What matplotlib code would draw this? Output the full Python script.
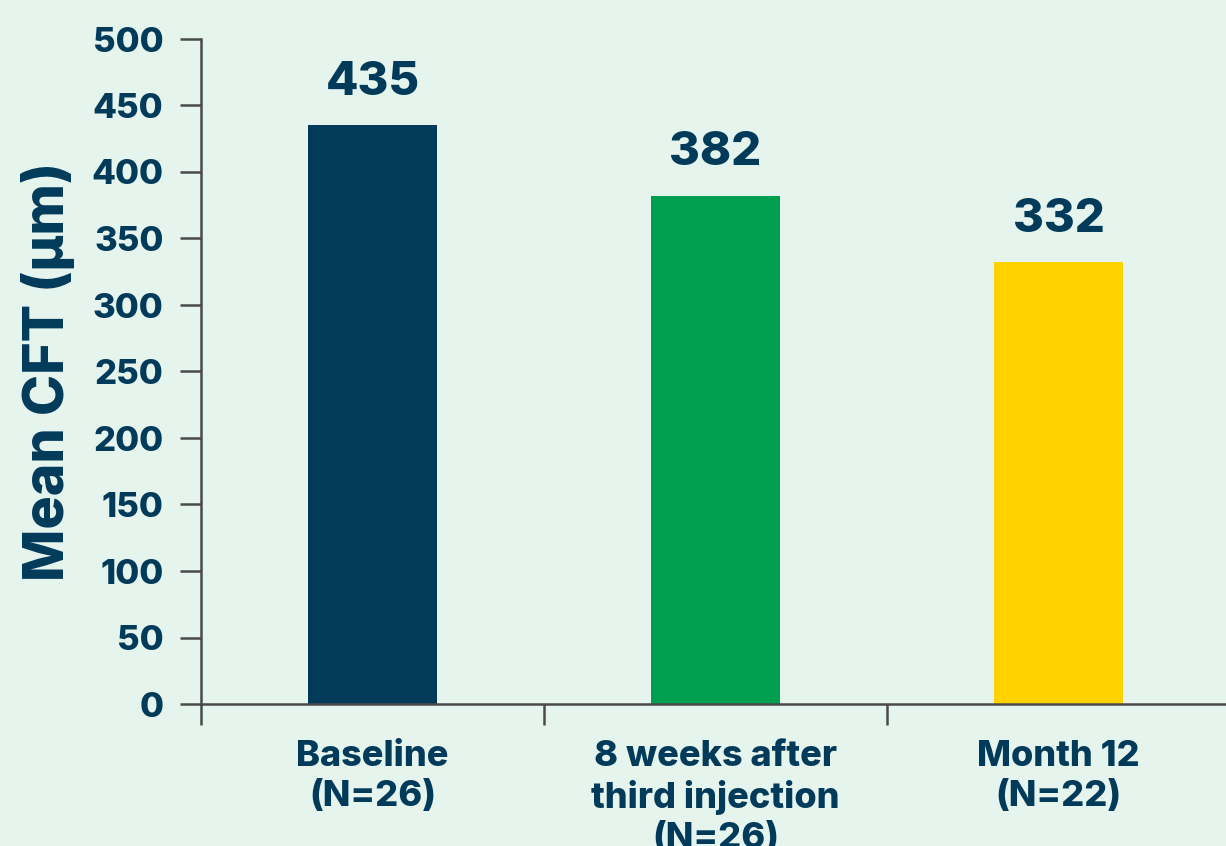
import numpy as np
import matplotlib
matplotlib.use("Agg")
import matplotlib.pyplot as plt
from matplotlib.ticker import FixedLocator, MultipleLocator

# Mean central foveal thickness at each visit
groups = ["Baseline\n(N=26)", "8 weeks after\nthird injection\n(N=26)", "Month 12\n(N=22)"]
mean_cft = [435, 382, 332]
bar_colors = ["#023a5a", "#009e4f", "#ffd200"]

navy = "#023a5a"
axis_grey = "#4a4a4a"
bg = "#e5f4ed"

plt.rcParams["font.family"] = ["Inter", "DejaVu Sans"]
plt.rcParams["font.weight"] = "heavy"

fig = plt.figure(figsize=(12.26, 8.46), dpi=100, facecolor=bg)
ax = fig.add_axes([201 / 1226, 142 / 846, 1029 / 1226, 665 / 846])
ax.set_facecolor(bg)

x = np.arange(len(groups))
bars = ax.bar(x, mean_cft, width=0.376, color=bar_colors, zorder=2)

ax.set_xlim(-0.5, len(groups) - 0.5)
ax.set_ylim(0, 500)

# y axis: ticks every 50
ax.yaxis.set_major_locator(MultipleLocator(50))
ax.tick_params(axis="y", direction="out", length=15, width=1.8, color=axis_grey,
               pad=12, labelsize=25, labelcolor=navy)

# x axis: ticks at category boundaries, labels at category centres
ax.xaxis.set_major_locator(FixedLocator(np.arange(len(groups)) - 0.5))
ax.xaxis.set_minor_locator(FixedLocator(x))
ax.tick_params(axis="x", which="major", direction="out", length=15, width=1.8,
               color=axis_grey, labelbottom=False)
ax.tick_params(axis="x", which="minor", length=0, pad=26, labelsize=26,
               labelcolor=navy)
ax.set_xticklabels(groups, minor=True, fontweight="heavy", linespacing=1.25)

for side in ["top", "right"]:
    ax.spines[side].set_visible(False)
for side in ["left", "bottom"]:
    ax.spines[side].set_color(axis_grey)
    ax.spines[side].set_linewidth(1.8)

ax.set_ylabel("Mean CFT (µm)", fontsize=40, color=navy, fontweight="heavy",
              labelpad=12)

for rect, val in zip(bars, mean_cft):
    ax.annotate(f"{val}", xy=(rect.get_x() + rect.get_width() / 2, val),
                xytext=(0, 22), textcoords="offset points", ha="center",
                va="baseline", fontsize=34, color=navy, fontweight="heavy")

fig.savefig("out.png", dpi=100, facecolor=bg)
